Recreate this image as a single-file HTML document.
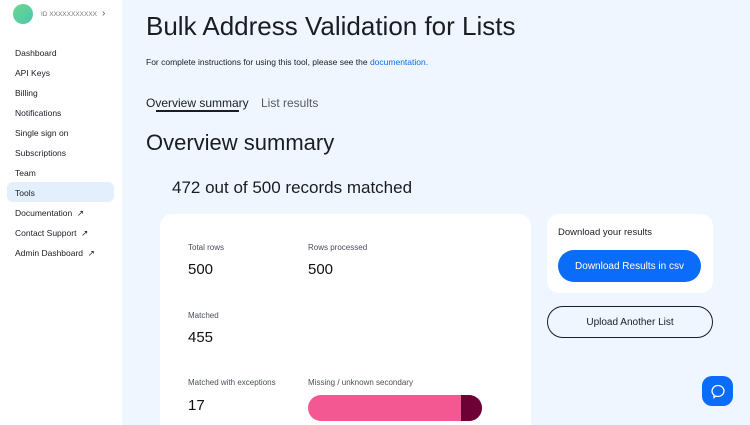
<!DOCTYPE html>
<html><head><meta charset="utf-8"><style>
*{margin:0;padding:0;box-sizing:border-box}
html,body{width:750px;height:425px;overflow:hidden}
body{background:#eff6ff;font-family:"Liberation Sans",sans-serif;color:#1a1d24;position:relative}
.a{position:absolute;white-space:nowrap}
#side{position:absolute;left:0;top:0;width:122px;height:425px;background:#fff}
.nav{position:absolute;left:15px;font-size:8.5px;color:#1a1d24}
.card{position:absolute;background:#fff;border-radius:12px}
.lab{font-size:8px;color:#4a4f5a}
.num{font-size:15px;color:#111}
.btn{display:flex;align-items:center;justify-content:center}
</style></head><body>
<div id="side">
 <div class="a" style="left:13px;top:4px;width:20px;height:20px;border-radius:50%;background:linear-gradient(135deg,#6ad88a,#4cc6b0)"></div>
 <div class="a" style="left:41px;top:11px;font-size:6.5px;color:#777">ID XXXXXXXXXXX</div>
 <div class="a" style="left:102px;top:8px;font-size:10px;color:#555">&#8250;</div>
 <div class="nav" style="top:48px">Dashboard</div>
 <div class="nav" style="top:68px">API Keys</div>
 <div class="nav" style="top:88px">Billing</div>
 <div class="nav" style="top:108px">Notifications</div>
 <div class="nav" style="top:128px">Single sign on</div>
 <div class="nav" style="top:148px">Subscriptions</div>
 <div class="nav" style="top:168px">Team</div>
 <div class="a" style="left:7px;top:182px;width:107px;height:20px;border-radius:6px;background:#e3effd"></div>
 <div class="nav" style="top:188px">Tools</div>
 <div class="nav" style="top:208px">Documentation &nbsp;&#8599;</div>
 <div class="nav" style="top:228px">Contact Support &nbsp;&#8599;</div>
 <div class="nav" style="top:248px">Admin Dashboard &nbsp;&#8599;</div>
</div>
<div class="a" style="left:146px;top:11px;font-size:26px;color:#1a1d24">Bulk Address Validation for Lists</div>
<div class="a" style="left:146px;top:57px;font-size:8.5px">For complete instructions for using this tool, please see the <span style="color:#0a6cf0">documentation.</span></div>
<div class="a" style="left:146px;top:96px;font-size:12px">Overview summary</div>
<div class="a" style="left:261px;top:96px;font-size:12px;color:#555a63">List results</div>
<div class="a" style="left:156px;top:110px;width:83px;height:2px;background:#1a1d24"></div>
<div class="a" style="left:146px;top:130px;font-size:22px">Overview summary</div>
<div class="a" style="left:172px;top:178px;font-size:17px">472 out of 500 records matched</div>
<div class="card" style="left:160px;top:214px;width:371px;height:211px;border-radius:12px 12px 0 0"></div>
<div class="a lab" style="left:188px;top:243px">Total rows</div>
<div class="a num" style="left:188px;top:261px">500</div>
<div class="a lab" style="left:308px;top:243px">Rows processed</div>
<div class="a num" style="left:308px;top:261px">500</div>
<div class="a lab" style="left:188px;top:311px">Matched</div>
<div class="a num" style="left:188px;top:329px">455</div>
<div class="a lab" style="left:188px;top:378px">Matched with exceptions</div>
<div class="a num" style="left:188px;top:397px">17</div>
<div class="a lab" style="left:308px;top:378px">Missing / unknown secondary</div>
<div class="a" style="left:308px;top:395px;width:174px;height:26px;border-radius:13px;background:#f45892;overflow:hidden"><div style="position:absolute;left:153px;top:0;width:21px;height:26px;background:#6d0035"></div></div>
<div class="card" style="left:547px;top:214px;width:166px;height:79px"></div>
<div class="a" style="left:558px;top:227px;font-size:9.5px">Download your results</div>
<div class="a btn" style="left:558px;top:250px;width:143px;height:32px;border-radius:16px;background:#0a6cf9;color:#fff;font-size:10px">Download Results in csv</div>
<div class="a btn" style="left:547px;top:306px;width:166px;height:32px;border-radius:16px;border:1px solid #1a1d24;font-size:10px">Upload Another List</div>
<div class="a" style="left:702px;top:376px;width:31px;height:30px;border-radius:10px;background:#0a6cf9"><svg width="31" height="30"><path d="M15.5 9.5a6 5.5 0 1 1 -2 10.5l-1.5 1.5v-2.5a6 5.5 0 0 1 3.5-9.5z" fill="none" stroke="#fff" stroke-width="1.3"/></svg></div>
</body></html>
